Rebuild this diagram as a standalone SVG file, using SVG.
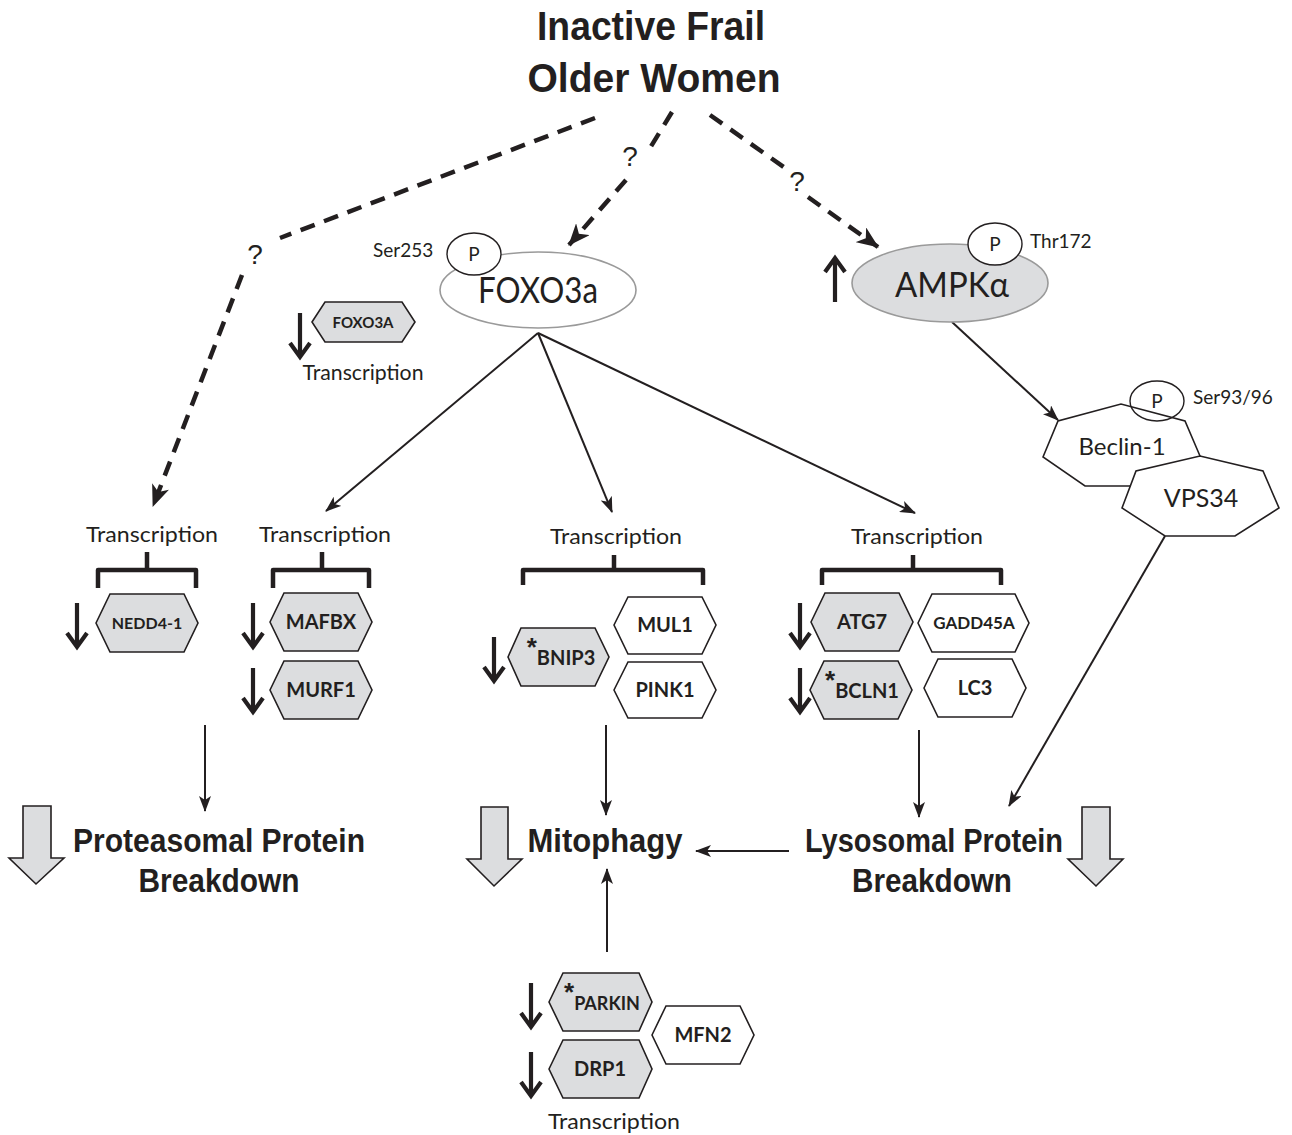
<svg xmlns="http://www.w3.org/2000/svg" xmlns:xlink="http://www.w3.org/1999/xlink" width="1292" height="1135" viewBox="0 0 1292 1135">
<style>
.bg{fill:#fff}
.hx{stroke:#231f20;stroke-width:1.6}
.g{fill:#dcdddf}
.w{fill:#fff}
.hl{font-family:Lato,"Liberation Sans",sans-serif;font-weight:bold;fill:#231f20;text-anchor:middle}
.tr{font-family:Lato,"Liberation Sans",sans-serif;font-size:21px;fill:#231f20;text-anchor:middle}
.sm{font-family:Lato,"Liberation Sans",sans-serif;font-size:19px;fill:#231f20}
.big{font-family:"Liberation Sans",Arial,sans-serif;font-weight:bold;fill:#231f20;text-anchor:middle}
.q{font-family:"Liberation Sans",Arial,sans-serif;font-size:28px;fill:#231f20;text-anchor:middle}
.ast{font-family:"Liberation Sans",Arial,sans-serif;font-size:26px;font-weight:bold}
.ln{stroke:#231f20;stroke-width:2;fill:none}
.dash{stroke:#231f20;stroke-width:4.5;fill:none;stroke-dasharray:15 10}
.br{stroke:#231f20;stroke-width:4.5;fill:none;stroke-linejoin:round}
.blk{fill:#dcdddf;stroke:#231f20;stroke-width:1.6}
</style>
<defs>
<marker id="ah" markerUnits="userSpaceOnUse" markerWidth="16" markerHeight="12" refX="15" refY="6" orient="auto">
<path d="M0,0 L16,6 L0,12 L4,6 Z" fill="#231f20"/>
</marker>
<marker id="dh" markerUnits="userSpaceOnUse" markerWidth="22" markerHeight="18" refX="21" refY="9" orient="auto">
<path d="M0,0 L22,9 L0,18 L6,9 Z" fill="#231f20"/>
</marker>
<path id="da" d="M0,0 V43 M-10,30 L0,44 L10,30" stroke="#231f20" stroke-width="4.2" fill="none"/>
</defs>
<rect class="bg" x="0" y="0" width="1292" height="1135"/>

<g id="title">
<text class="big" x="651" y="40" font-size="40" textLength="228" lengthAdjust="spacingAndGlyphs">Inactive Frail</text>
<text class="big" x="654" y="92" font-size="40" textLength="253" lengthAdjust="spacingAndGlyphs">Older Women</text>
</g>

<g id="connectors">
<path class="dash" d="M595,118 L280,238"/>
<path class="dash" d="M242,275 L153,506" marker-end="url(#dh)"/>
<path class="dash" d="M672,112 L650,148"/>
<path class="dash" d="M626,180 L569,245" marker-end="url(#dh)"/>
<path class="dash" d="M710,115 L785,168"/>
<path class="dash" d="M808,197 L878,247" marker-end="url(#dh)"/>
<text class="q" x="630" y="166">?</text>
<text class="q" x="797" y="191">?</text>
<text class="q" x="255" y="264">?</text>

<path class="ln" d="M538,333 L326,511" marker-end="url(#ah)"/>
<path class="ln" d="M538,333 L612,512" marker-end="url(#ah)"/>
<path class="ln" d="M538,333 L915,513" marker-end="url(#ah)"/>
<path class="ln" d="M952,322 L1058,420" marker-end="url(#ah)"/>
<path class="ln" d="M1165,536 L1009,806" marker-end="url(#ah)"/>
<path class="ln" d="M205,725 L205,811" marker-end="url(#ah)"/>
<path class="ln" d="M606,725 L606,815" marker-end="url(#ah)"/>
<path class="ln" d="M919,730 L919,817" marker-end="url(#ah)"/>
<path class="ln" d="M789,851 L696,851" marker-end="url(#ah)"/>
<path class="ln" d="M607,952 L607,869" marker-end="url(#ah)"/>
</g>

<g id="foxo3a">
<ellipse cx="538" cy="290" rx="98" ry="38" fill="#fff" stroke="#9a9a9a" stroke-width="1.6"/>
<text class="hl" x="538" y="303" font-size="36" textLength="120" lengthAdjust="spacingAndGlyphs" style="font-weight:normal">FOXO3a</text>
<ellipse cx="474" cy="254" rx="27" ry="21" fill="#fff" stroke="#231f20" stroke-width="1.4"/>
<text class="sm" x="474" y="261" text-anchor="middle">P</text>
<text class="sm" x="373" y="257">Ser253</text>
</g>

<g id="ampk">
<ellipse cx="950" cy="283" rx="98" ry="39" fill="#dcdddf" stroke="#9a9a9a" stroke-width="1.6"/>
<text class="hl" x="952" y="297" font-size="34" textLength="114" lengthAdjust="spacingAndGlyphs" style="font-weight:normal">AMPKα</text>
<ellipse cx="995" cy="244" rx="27" ry="21" fill="#fff" stroke="#231f20" stroke-width="1.4"/>
<text class="sm" x="995" y="251" text-anchor="middle">P</text>
<text class="sm" x="1030" y="248">Thr172</text>
<use xlink:href="#da" href="#da" transform="translate(835,302) scale(1,-1)"/>
</g>

<g id="beclin">
<polygon class="hx w" points="1043,457 1058,421 1121,404 1185,421 1200,456 1170,486 1085,486"/>
<text class="sm" x="1122" y="455" text-anchor="middle" style="font-size:24px">Beclin-1</text>
<ellipse cx="1157" cy="401" rx="27" ry="20" fill="none" stroke="#231f20" stroke-width="1.4"/>
<text class="sm" x="1157" y="408" text-anchor="middle">P</text>
<text class="sm" x="1193" y="404">Ser93/96</text>
</g>

<g id="vps34">
<polygon class="hx w" points="1122,508 1136,471 1200,456 1263,471 1279,508 1235,536 1165,536"/>
<text class="sm" x="1201" y="507" text-anchor="middle" style="font-size:25px">VPS34</text>
</g>

<g id="foxo3a-gene">
<polygon class="hx g" points="312,322 325,302 402,302 415,322 402,342 325,342"/>
<text class="hl" x="363" y="328" font-size="15">FOXO3A</text>
<use xlink:href="#da" href="#da" x="300" y="313"/>
<text class="tr" x="363" y="380" textLength="121" lengthAdjust="spacingAndGlyphs">Transcription</text>
</g>

<g id="nedd4">
<text class="tr" x="152" y="542" textLength="132" lengthAdjust="spacingAndGlyphs">Transcription</text>
<path class="br" d="M98,588 V570 H196 V588 M147,570 V552"/>
<polygon class="hx g" points="96,623 110,594 184,594 198,623 184,652 110,652"/>
<text class="hl" x="147" y="629" font-size="16">NEDD4-1</text>
<use xlink:href="#da" href="#da" x="77" y="603"/>
</g>

<g id="mafbx-murf1">
<text class="tr" x="325" y="542" textLength="132" lengthAdjust="spacingAndGlyphs">Transcription</text>
<path class="br" d="M273,588 V570 H369 V588 M322,570 V552"/>
<polygon class="hx g" points="270,622 284,593 358,593 372,622 358,651 284,651"/>
<text class="hl" x="321" y="629" font-size="20">MAFBX</text>
<use xlink:href="#da" href="#da" x="253" y="603"/>
<polygon class="hx g" points="270,690 284,661 358,661 372,690 358,719 284,719"/>
<text class="hl" x="321" y="697" font-size="20">MURF1</text>
<use xlink:href="#da" href="#da" x="253" y="668"/>
</g>

<g id="mito-genes">
<text class="tr" x="616" y="544" textLength="132" lengthAdjust="spacingAndGlyphs">Transcription</text>
<path class="br" d="M523,585 V570 H703 V585 M614,570 V555"/>
<polygon class="hx g" points="508,657 521,628 595,628 609,657 595,686 521,686"/>
<text class="hl" x="561" y="665" font-size="20"><tspan class="ast" dy="-9">*</tspan><tspan dy="9">BNIP3</tspan></text>
<use xlink:href="#da" href="#da" x="494" y="637"/>
<polygon class="hx w" points="614,625 628,597 702,597 716,625 702,654 628,654"/>
<text class="hl" x="665" y="632" font-size="20">MUL1</text>
<polygon class="hx w" points="614,690 628,662 702,662 716,690 702,718 628,718"/>
<text class="hl" x="665" y="697" font-size="20">PINK1</text>
</g>

<g id="lyso-genes">
<text class="tr" x="917" y="544" textLength="132" lengthAdjust="spacingAndGlyphs">Transcription</text>
<path class="br" d="M822,585 V570 H1001 V585 M913,570 V555"/>
<polygon class="hx g" points="811,622 825,593 899,593 913,622 899,651 825,651"/>
<text class="hl" x="862" y="629" font-size="20">ATG7</text>
<use xlink:href="#da" href="#da" x="800" y="603"/>
<polygon class="hx w" points="918,623 932,594 1015,594 1029,623 1015,652 932,652"/>
<text class="hl" x="974" y="629" font-size="17">GADD45A</text>
<polygon class="hx g" points="810,690 824,661 898,661 912,690 898,719 824,719"/>
<text class="hl" x="862" y="698" font-size="20"><tspan class="ast" dy="-9">*</tspan><tspan dy="9">BCLN1</tspan></text>
<use xlink:href="#da" href="#da" x="800" y="668"/>
<polygon class="hx w" points="924,688 938,659 1012,659 1026,688 1012,717 938,717"/>
<text class="hl" x="975" y="695" font-size="20">LC3</text>
</g>

<g id="proteasomal">
<polygon class="blk" points="23,806 51,806 51,858 64,858 36,884 9,858 23,858"/>
<text class="big" x="219" y="852" font-size="33" textLength="292" lengthAdjust="spacingAndGlyphs">Proteasomal Protein</text>
<text class="big" x="219" y="892" font-size="33" textLength="161" lengthAdjust="spacingAndGlyphs">Breakdown</text>
</g>

<g id="mitophagy">
<polygon class="blk" points="481,807 508,807 508,859 522,859 494,886 467,859 481,859"/>
<text class="big" x="605" y="852" font-size="33" textLength="155" lengthAdjust="spacingAndGlyphs">Mitophagy</text>
</g>

<g id="lysosomal">
<polygon class="blk" points="1082,807 1110,807 1110,859 1123,859 1096,886 1068,859 1082,859"/>
<text class="big" x="934" y="852" font-size="33" textLength="258" lengthAdjust="spacingAndGlyphs">Lysosomal Protein</text>
<text class="big" x="932" y="892" font-size="33" textLength="160" lengthAdjust="spacingAndGlyphs">Breakdown</text>
</g>

<g id="mito-dynamics">
<polygon class="hx g" points="549,1002 563,973 639,973 652,1002 639,1031 563,1031"/>
<text class="hl" x="602" y="1010" font-size="18"><tspan class="ast" dy="-9">*</tspan><tspan dy="9">PARKIN</tspan></text>
<use xlink:href="#da" href="#da" x="531" y="983"/>
<polygon class="hx g" points="549,1069 563,1040 639,1040 652,1069 639,1098 563,1098"/>
<text class="hl" x="600" y="1076" font-size="20">DRP1</text>
<use xlink:href="#da" href="#da" x="531" y="1052"/>
<polygon class="hx w" points="652,1035 666,1006 740,1006 754,1035 740,1064 666,1064"/>
<text class="hl" x="703" y="1042" font-size="20">MFN2</text>
<text class="tr" x="614" y="1129" textLength="132" lengthAdjust="spacingAndGlyphs">Transcription</text>
</g>
</svg>
